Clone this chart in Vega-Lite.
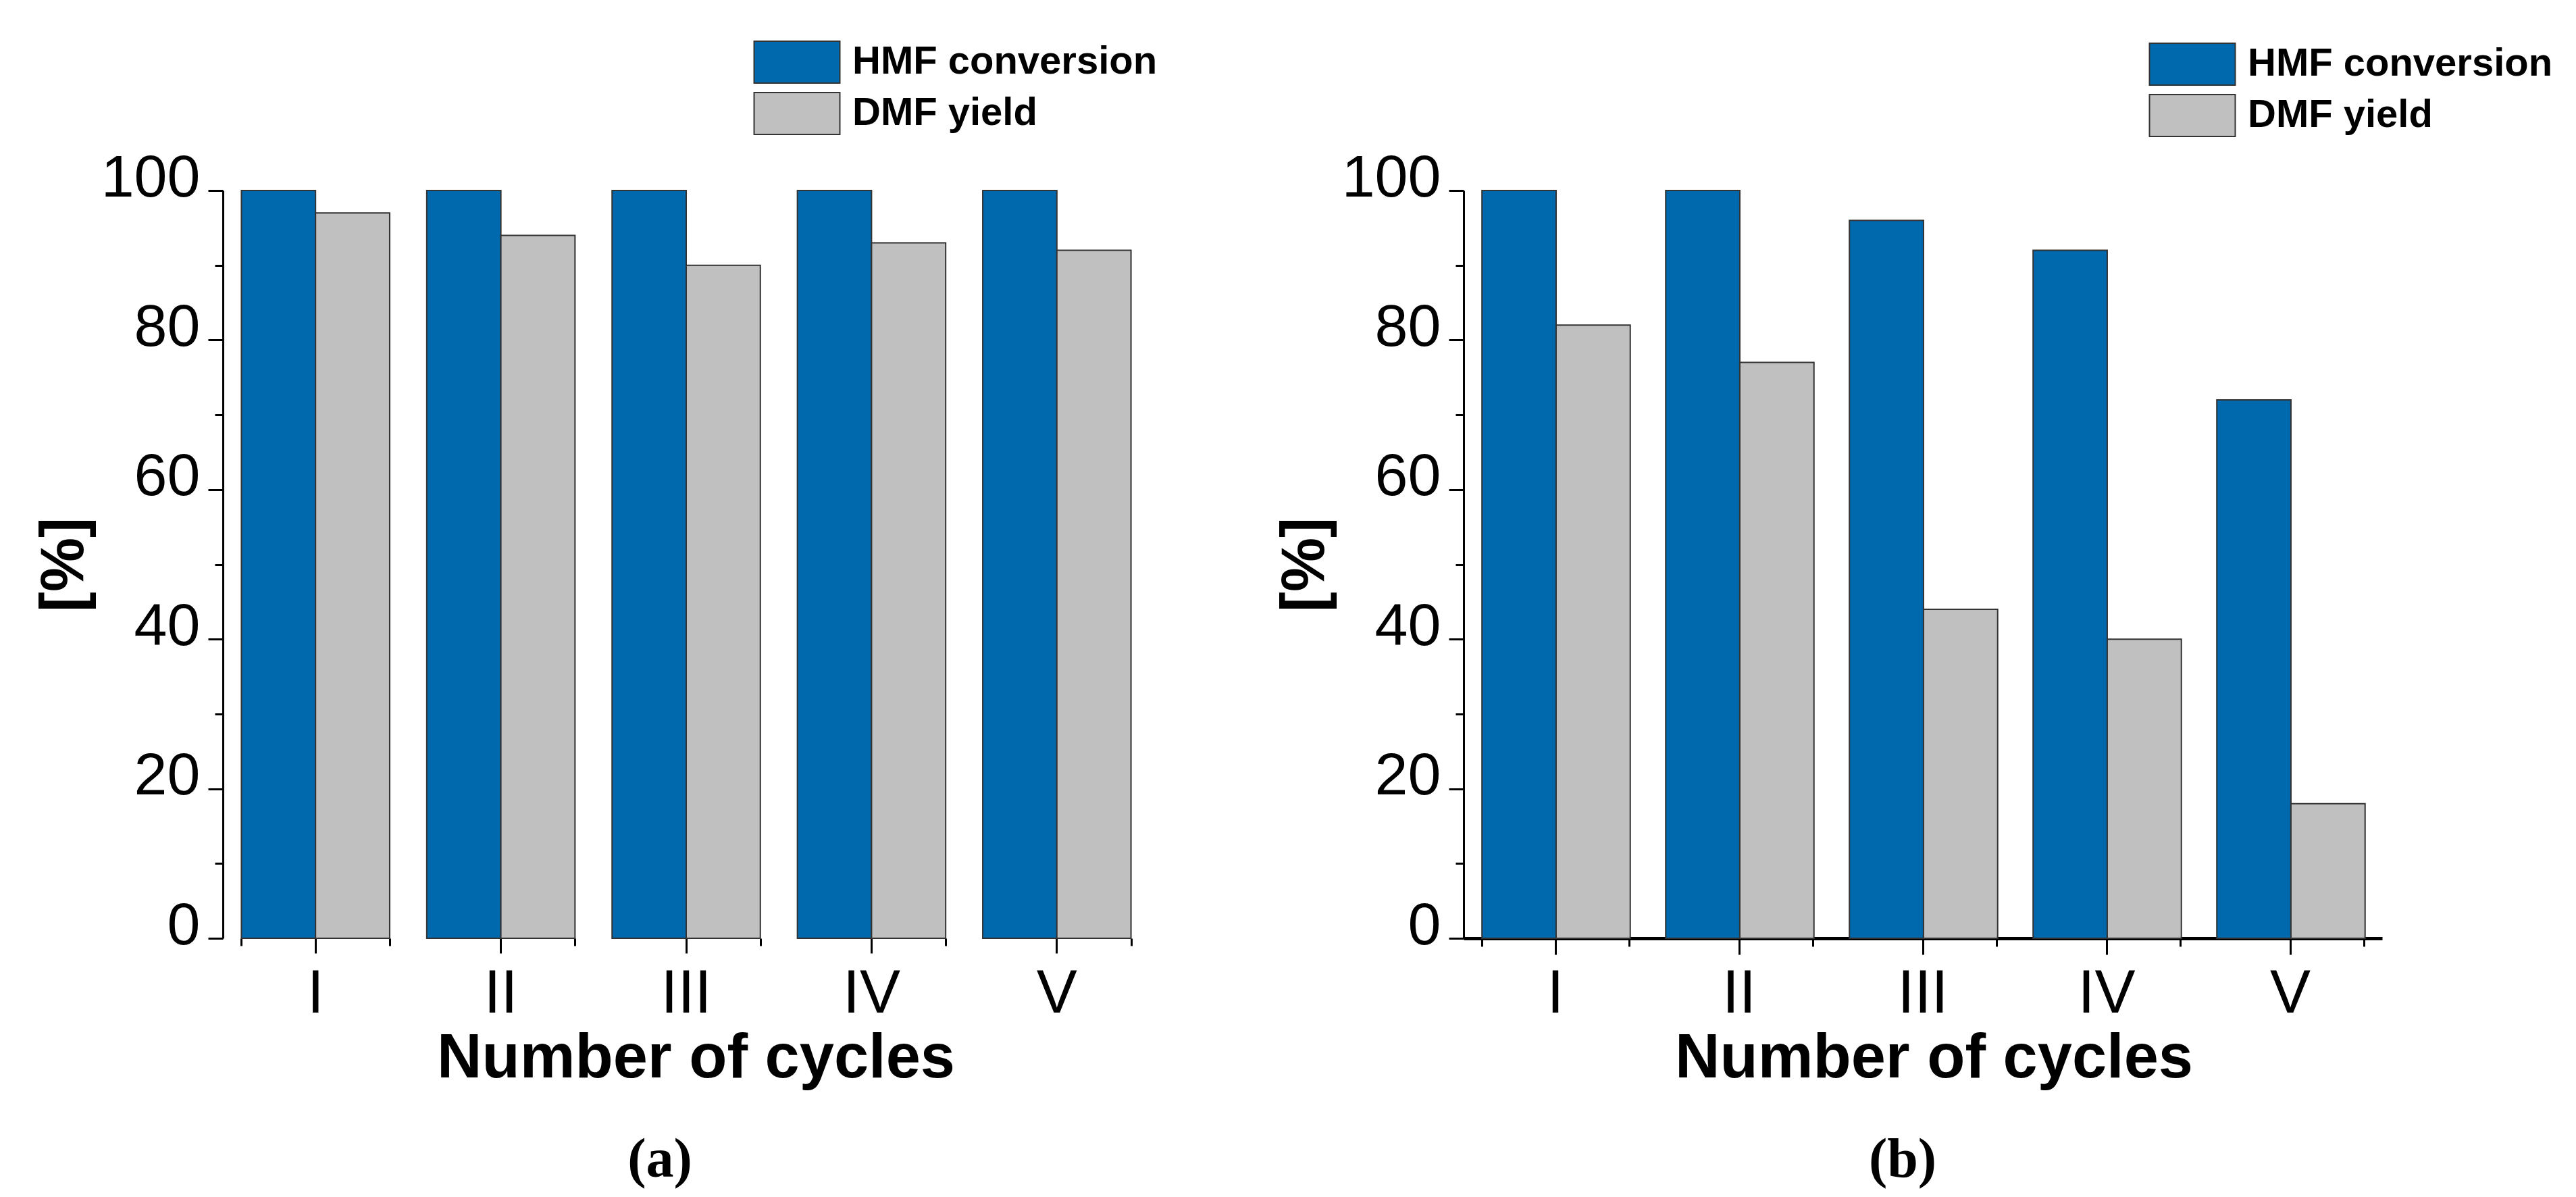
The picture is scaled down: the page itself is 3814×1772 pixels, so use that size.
{
  "$schema": "https://vega.github.io/schema/vega-lite/v6.json",
  "padding": {"left": 50, "top": 60, "right": 10, "bottom": 10},
  "background": "white",
  "config": {
    "view": {"stroke": null},
    "font": "Liberation Sans",
    "axis": {"grid": false, "domainColor": "#000", "tickColor": "#000", "labelColor": "#000", "titleColor": "#000", "labelFont": "Liberation Sans", "titleFont": "Liberation Sans"},
    "legend": {"padding": 0, "titlePadding": 0, "labelLimit": 0},
    "title": {"color": "#000"}
  },
  "datasets": {
    "a": [
      {"cycle": "I", "series": "HMF conversion", "value": 100},
      {"cycle": "I", "series": "DMF yield", "value": 97},
      {"cycle": "II", "series": "HMF conversion", "value": 100},
      {"cycle": "II", "series": "DMF yield", "value": 94},
      {"cycle": "III", "series": "HMF conversion", "value": 100},
      {"cycle": "III", "series": "DMF yield", "value": 90},
      {"cycle": "IV", "series": "HMF conversion", "value": 100},
      {"cycle": "IV", "series": "DMF yield", "value": 93},
      {"cycle": "V", "series": "HMF conversion", "value": 100},
      {"cycle": "V", "series": "DMF yield", "value": 92}
    ],
    "b": [
      {"cycle": "I", "series": "HMF conversion", "value": 100},
      {"cycle": "I", "series": "DMF yield", "value": 82},
      {"cycle": "II", "series": "HMF conversion", "value": 100},
      {"cycle": "II", "series": "DMF yield", "value": 77},
      {"cycle": "III", "series": "HMF conversion", "value": 96},
      {"cycle": "III", "series": "DMF yield", "value": 44},
      {"cycle": "IV", "series": "HMF conversion", "value": 92},
      {"cycle": "IV", "series": "DMF yield", "value": 40},
      {"cycle": "V", "series": "HMF conversion", "value": 72},
      {"cycle": "V", "series": "DMF yield", "value": 18}
    ]
  },
  "spacing": 173,
  "resolve": {"scale": {"x": "independent", "y": "independent", "color": "shared"}, "legend": {"color": "independent"}},
  "hconcat": [
    {
      "width": 1372, "height": 1107,
      "data": {"name": "a"},
      "title": {"text": "(a)", "orient": "bottom", "anchor": "middle", "frame": "group", "font": "Liberation Serif", "fontSize": 82, "fontWeight": "bold", "offset": 65, "dx": -39},
      "resolve": {"axis": {"x": "independent", "y": "independent"}},
      "layer": [
        {
          "mark": {"type": "bar", "stroke": "#333", "strokeWidth": 2},
          "encoding": {
            "x": {"field": "cycle", "type": "nominal", "sort": ["I", "II", "III", "IV", "V"], "scale": {"paddingInner": 0.2, "paddingOuter": 0.1},
              "axis": {"title": "Number of cycles", "orient": "bottom", "labelAngle": 0, "tickSize": 22, "tickWidth": 3, "domain": false, "labelFontSize": 90, "labelPadding": 16, "titleFontSize": 92, "titleFontWeight": "bold", "titlePadding": 5, "titleX": 700}},
            "xOffset": {"field": "series", "type": "nominal", "sort": ["HMF conversion", "DMF yield"], "scale": {"paddingInner": 0, "paddingOuter": 0}},
            "y": {"field": "value", "type": "quantitative", "scale": {"domain": [0, 100], "nice": false},
              "axis": {"title": "[%]", "orient": "left", "values": [0, 20, 40, 60, 80, 100], "tickSize": 22, "tickWidth": 3, "domainWidth": 3, "labelFontSize": 88, "labelPadding": 12, "labelOffset": -18, "titleFontSize": 90, "titleFontWeight": "bold", "titlePadding": 8}},
            "color": {"field": "series", "type": "nominal", "sort": ["HMF conversion", "DMF yield"],
              "scale": {"domain": ["HMF conversion", "DMF yield"], "range": ["#0068ad", "#c0c0c0"]},
              "legend": {"title": null, "orient": "none", "legendX": 818, "legendY": -222, "symbolType": "M-2.048,-1H2.048V1H-2.048Z", "symbolSize": 3844, "symbolStrokeColor": "#333", "symbolStrokeWidth": 2, "symbolOpacity": 1, "labelFontSize": 58, "labelFontWeight": "bold", "labelColor": "#000", "labelOffset": 50, "labelLimit": 0, "rowPadding": 6}}
          }
        },
        {
          "mark": {"type": "bar", "opacity": 0},
          "encoding": {
            "x": {"field": "cycle", "type": "nominal", "sort": ["I", "II", "III", "IV", "V"],
              "axis": {"title": null, "orient": "bottom", "tickBand": "extent", "tickSize": 11, "tickWidth": 3, "labels": false, "domain": false}},
            "xOffset": {"field": "series", "type": "nominal", "sort": ["HMF conversion", "DMF yield"]},
            "y": {"field": "value", "type": "quantitative",
              "axis": {"title": null, "orient": "left", "values": [10, 30, 50, 70, 90], "tickSize": 12, "tickWidth": 3, "labels": false, "domain": false}}
          }
        }
      ]
    },
    {
      "width": 1360, "height": 1107,
      "data": {"name": "b"},
      "title": {"text": "(b)", "orient": "bottom", "anchor": "middle", "frame": "group", "font": "Liberation Serif", "fontSize": 82, "fontWeight": "bold", "offset": 65, "dx": -30},
      "resolve": {"axis": {"x": "independent", "y": "independent"}},
      "layer": [
        {
          "mark": {"type": "bar", "stroke": "#333", "strokeWidth": 2},
          "encoding": {
            "x": {"field": "cycle", "type": "nominal", "sort": ["I", "II", "III", "IV", "V"], "scale": {"paddingInner": 0.2, "paddingOuter": 0.1},
              "axis": {"title": "Number of cycles", "orient": "bottom", "labelAngle": 0, "tickSize": 24, "tickWidth": 3, "domain": true, "domainWidth": 5, "labelFontSize": 90, "labelPadding": 14, "titleFontSize": 92, "titleFontWeight": "bold", "titlePadding": 5, "titleX": 696}},
            "xOffset": {"field": "series", "type": "nominal", "sort": ["HMF conversion", "DMF yield"], "scale": {"paddingInner": 0, "paddingOuter": 0}},
            "y": {"field": "value", "type": "quantitative", "scale": {"domain": [0, 100], "nice": false},
              "axis": {"title": "[%]", "orient": "left", "values": [0, 20, 40, 60, 80, 100], "tickSize": 22, "tickWidth": 3, "domainWidth": 3, "labelFontSize": 88, "labelPadding": 12, "labelOffset": -18, "titleFontSize": 90, "titleFontWeight": "bold", "titlePadding": 8}},
            "color": {"field": "series", "type": "nominal", "sort": ["HMF conversion", "DMF yield"],
              "scale": {"domain": ["HMF conversion", "DMF yield"], "range": ["#0068ad", "#c0c0c0"]},
              "legend": {"title": null, "orient": "none", "legendX": 1047, "legendY": -219, "symbolType": "M-2.048,-1H2.048V1H-2.048Z", "symbolSize": 3844, "symbolStrokeColor": "#333", "symbolStrokeWidth": 2, "symbolOpacity": 1, "labelFontSize": 58, "labelFontWeight": "bold", "labelColor": "#000", "labelOffset": 50, "labelLimit": 0, "rowPadding": 6}}
          }
        },
        {
          "mark": {"type": "bar", "opacity": 0},
          "encoding": {
            "x": {"field": "cycle", "type": "nominal", "sort": ["I", "II", "III", "IV", "V"],
              "axis": {"title": null, "orient": "bottom", "tickBand": "extent", "tickSize": 12, "tickWidth": 3, "labels": false, "domain": false}},
            "xOffset": {"field": "series", "type": "nominal", "sort": ["HMF conversion", "DMF yield"]},
            "y": {"field": "value", "type": "quantitative",
              "axis": {"title": null, "orient": "left", "values": [10, 30, 50, 70, 90], "tickSize": 12, "tickWidth": 3, "labels": false, "domain": false}}
          }
        }
      ]
    }
  ]
}
